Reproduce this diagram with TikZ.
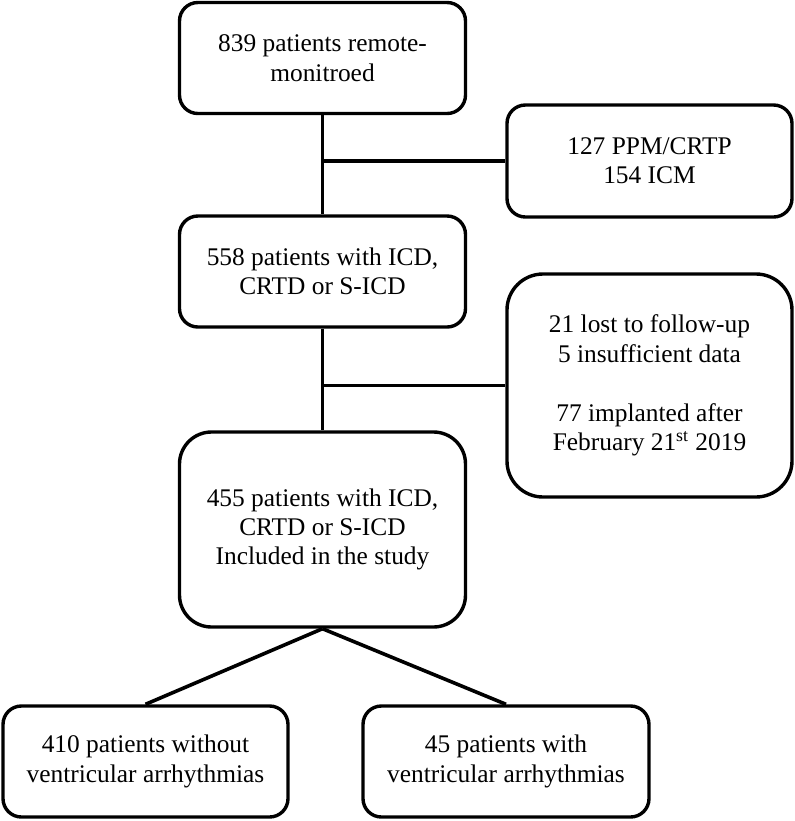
\documentclass[tikz,border=0pt]{standalone}
\usepackage{fontspec}
\setmainfont{Liberation Serif}
\usepackage{tikz}

\tikzset{
  box/.style={draw, line width=1.7pt, rounded corners=9.2pt, align=center,
    minimum width=143pt, minimum height=55.5pt, inner sep=0pt,
    font=\fontsize{12.7}{14.7}\selectfont},
  link/.style={draw, line width=1.8pt}
}

\begin{document}
\begin{tikzpicture}[x=0.5pt,y=-0.5pt]
  \useasboundingbox (0,0) rectangle (795,821);

  \node[box] (mon) at (322.5,58) {839 patients remote-\\monitroed};
  \node[box, minimum width=142.5pt, minimum height=56pt] (excl) at (649.5,161)
    {127 PPM/CRTP\\154 ICM};
  \node[box] (icd) at (322.5,271.5) {558 patients with ICD,\\CRTD or S-ICD};
  \node[box, minimum width=142.5pt, minimum height=111.5pt, rounded corners=18pt]
    (lost) at (649.5,385.5)
    {21 lost to follow-up\\5 insufficient data\\[14.7pt]77 implanted after\\
     February 21\textsuperscript{st} 2019};
  \node[box, minimum height=97.5pt, rounded corners=16pt] (incl) at (322.5,529.5)
    {455 patients with ICD,\\CRTD or S-ICD\\Included in the study};
  \node[box, minimum width=142.5pt] (novt) at (145.5,761.5)
    {410 patients without\\ventricular arrhythmias};
  \node[box] (vt) at (506,761.5)
    {45 patients with\\ventricular arrhythmias};

  \coordinate (j1) at (mon |- excl);
  \coordinate (j2) at (icd |- lost);

  \draw[link] (mon) -- (icd);
  \draw[link] (j1) -- (excl);
  \draw[link] (icd) -- (incl);
  \draw[link] (j2) -- (lost);
  \draw[link] (incl.south) -- (novt.north);
  \draw[link] (incl.south) -- (vt.north);
\end{tikzpicture}
\end{document}
